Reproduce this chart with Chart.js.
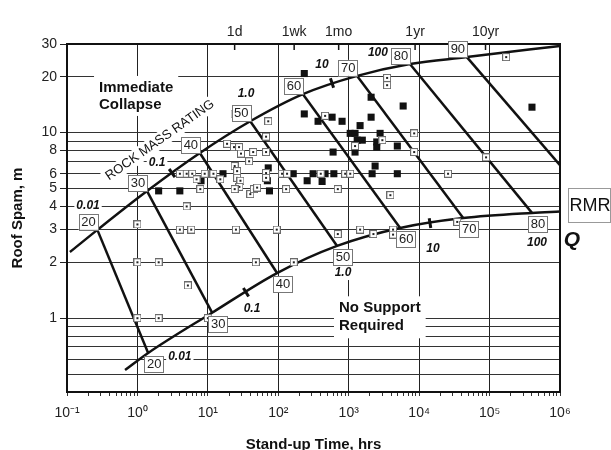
<!DOCTYPE html>
<html>
<head>
<meta charset="utf-8">
<script src="https://cdn.jsdelivr.net/npm/chart.js@4.4.1/dist/chart.umd.min.js"></script>
<style>
  html, body { margin: 0; padding: 0; background: #fff; }
  canvas { display: block; }
</style>
</head>
<body>
<canvas id="chart" width="611" height="450"></canvas>
<script>
// Stand-up time (hrs) vs roof span (m), both log scales
const openCases = [
    [1, 3.2], [4, 3], [5.8, 3], [25, 3], [95, 3],
    [1, 2], [2, 2], [48, 2], [166, 2], [5.2, 1.5],
    [1, 1], [2, 1], [10, 1],
    [700, 2.84], [1450, 3], [2240, 2.84], [4260, 3], [4260, 2.82], [34700, 3.3],
    [5, 4], [4, 6], [5, 6], [6, 6], [9, 6], [12, 6],
    [6.9, 5.6], [7.8, 4.96],
    [24, 12.6], [72, 11.5], [67, 9.5],
    [18.7, 8.7], [23.5, 8.35], [27.7, 8.35], [29.5, 7.7], [44, 7.85], [67, 7.85], [38.5, 7.0],
    [24, 6.6], [26, 6.2], [26, 5.7], [29, 5.5], [28, 5.1], [24, 4.96], [15, 5.6],
    [40, 4.66], [45, 4.96], [50, 5.05], [67, 6.05], [67, 5.7],
    [113, 6], [133, 6], [129, 4.96],
    [3510, 19.7], [3510, 18.0], [462, 12.3], [3000, 9.1], [8500, 9.9], [8500, 7.85], [1230, 8.46],
    [400, 6], [890, 6], [1050, 6], [700, 4.96], [3900, 4.6], [25700, 6], [89000, 7.35], [172000, 25.5]
];
const filledCases = [
    [2, 4.85], [4, 4.85], [8, 5.5], [16.4, 6], [72, 6.45], [70, 5.5], [75, 4.85],
    [163, 6], [257, 5.5], [312, 6], [419, 5.45], [462, 6], [615, 6], [2150, 6], [2370, 6.6], [4900, 6],
    [600, 7.85], [1230, 7.85], [2500, 8.9], [2500, 8.35], [4900, 8.46],
    [1050, 9.9], [1230, 9.9], [1320, 9.1], [1560, 9.1], [2790, 9.9], [1450, 10.9],
    [234, 20.8], [234, 12.6], [367, 11.5], [581, 12.1], [805, 11.5],
    [2080, 15.5], [2080, 12.1], [5930, 13.9], [400000, 13.7]
];

// rock mass rating lines
const rmrValues = [20, 30, 40, 50, 60, 70, 80, 90];
const upperRmr = [[0.27, 2.99], [1.37, 4.84], [7.7, 7.76], [40, 11.5], [224, 16.1], [1318, 20.2], [7400, 23.4], [47600, 25.5]];
const lowerRmr = [[1.42, 0.649], [11.5, 1.07], [96, 1.75], [684, 2.45], [5370, 3.06], [42200, 3.46], [400000, 3.69]];
const rmr90End = [1e6, 6.68];
const upperCurve = [[0.11, 2.27], ...upperRmr, [1e6, 29.3]];
const lowerCurve = [[0.667, 0.525], ...lowerRmr, [1e6, 3.75]];

// Q values along the two boundary curves
const qLabels = ['0.01', '0.1', '1.0', '10', '100'];
const upperQPos = [[0.199, 4.02], [1.9, 6.85], [34.8, 16.1], [417, 23.1], [2600, 26.8]];
const lowerQPos = [[4.0, 0.62], [42.4, 1.12], [830, 1.75], [15700, 2.36], [471000, 2.54]];
const upperQTicks = [[3.1, 6.05], [579, 18.5]];
const lowerQTicks = [[34.8, 1.38], [14260, 3.25]];

// axes
const yGridValues = [0.5, 0.6, 0.7, 0.8, 0.9, 1, 2, 3, 4, 5, 6, 7, 8, 9, 10, 20, 30];
const yLabelled = [1, 2, 3, 4, 5, 6, 8, 10, 20, 30];
const topTickHours = [24, 168, 720, 8760, 87600];
const topTickNames = ['1d', '1wk', '1mo', '1yr', '10yr'];

const family = '"Liberation Sans", Arial, Helvetica, sans-serif';
const supers = { '-': '\u207B', '0': '\u2070', '1': '\u00B9', '2': '\u00B2', '3': '\u00B3', '4': '\u2074', '5': '\u2075', '6': '\u2076' };

const xTickValues = [];
for (let e = -1; e < 6; e++) {
    for (let m = 1; m < 10; m++) xTickValues.push(parseFloat((m * Math.pow(10, e)).toPrecision(3)));
}
xTickValues.push(1e6);

function isDecade(v) {
    const l = Math.log10(v);
    return Math.abs(l - Math.round(l)) < 1e-9;
}

function toXY(list) {
    return list.map(p => ({ x: p[0], y: p[1] }));
}

function openMarker() {
    const c = document.createElement('canvas');
    c.width = 8; c.height = 8;
    const g = c.getContext('2d');
    g.fillStyle = '#fff';
    g.fillRect(0, 0, 8, 8);
    g.strokeStyle = '#6a6a6a';
    g.lineWidth = 1;
    g.strokeRect(0.5, 0.5, 7, 7);
    g.fillStyle = '#222';
    g.fillRect(3, 3, 2, 2);
    return c;
}

const lineStyle = {
    showLine: true,
    pointRadius: 0,
    borderColor: '#111',
    borderWidth: 2.5,
    fill: false
};

const datasets = [
    { data: toXY(openCases), pointStyle: openMarker(), pointRadius: 4 },
    { data: toXY(filledCases), pointStyle: 'rect', pointRadius: 5, backgroundColor: '#111', borderColor: '#111', borderWidth: 0 },
    { ...lineStyle, data: toXY(upperCurve), cubicInterpolationMode: 'monotone' },
    { ...lineStyle, data: toXY(lowerCurve), cubicInterpolationMode: 'monotone' }
];
upperRmr.forEach((p, i) => {
    const end = i < lowerRmr.length ? lowerRmr[i] : rmr90End;
    datasets.push({ ...lineStyle, data: toXY([p, end]) });
});

function whiteText(ctx, lines, x, y, lineH, font, align) {
    ctx.font = font;
    ctx.textBaseline = 'middle';
    ctx.textAlign = align;
    const w = Math.max(...lines.map(t => ctx.measureText(t).width));
    const left = align === 'left' ? x : x - w / 2;
    ctx.fillStyle = '#fff';
    ctx.fillRect(left - 5, y - lineH / 2 - 3, w + 10, lineH * lines.length + 6);
    ctx.fillStyle = '#111';
    lines.forEach((t, i) => ctx.fillText(t, x, y + i * lineH));
}

function rmrBox(ctx, text, x, y) {
    ctx.font = '13px ' + family;
    ctx.textAlign = 'center';
    ctx.textBaseline = 'middle';
    const w = ctx.measureText(text).width + 5;
    ctx.fillStyle = '#fff';
    ctx.fillRect(x - w / 2, y - 8, w, 16);
    ctx.strokeStyle = '#777';
    ctx.lineWidth = 1;
    ctx.strokeRect(Math.round(x - w / 2) + 0.5, Math.round(y - 8) + 0.5, Math.round(w), 16);
    ctx.fillStyle = '#222';
    ctx.fillText(text, x, y + 0.5);
}

const decor = {
    id: 'decor',
    beforeDatasetsDraw(chart) {
        const { ctx } = chart;
        const xs = chart.scales.x, ys = chart.scales.y;
        ctx.save();
        whiteText(ctx, ['Immediate', 'Collapse'], xs.getPixelForValue(0.285), ys.getPixelForValue(17.5), 17, 'bold 15px ' + family, 'left');
        whiteText(ctx, ['No Support', 'Required'], xs.getPixelForValue(728), ys.getPixelForValue(1.13), 18, 'bold 15px ' + family, 'left');

        // rotated curve title
        ctx.translate(xs.getPixelForValue(2.09), ys.getPixelForValue(9.1));
        ctx.rotate(-35.3 * Math.PI / 180);
        ctx.font = '13px ' + family;
        const w = ctx.measureText('ROCK MASS RATING').width;
        ctx.fillStyle = '#fff';
        ctx.fillRect(-w / 2 - 3, -8, w + 6, 16);
        ctx.fillStyle = '#111';
        ctx.textAlign = 'center';
        ctx.textBaseline = 'middle';
        ctx.fillText('ROCK MASS RATING', 0, 0);
        ctx.restore();
    },
    afterDatasetsDraw(chart) {
        const { ctx, chartArea: a } = chart;
        const xs = chart.scales.x, ys = chart.scales.y, x2 = chart.scales.x2;
        const px = p => [xs.getPixelForValue(p[0]), ys.getPixelForValue(p[1])];
        ctx.save();

        // frame
        ctx.strokeStyle = '#111';
        ctx.lineWidth = 2;
        ctx.strokeRect(a.left, a.top, a.right - a.left, a.bottom - a.top);

        // short inside ticks of the time scale
        ctx.lineWidth = 1.5;
        topTickHours.forEach(h => {
            const x = x2.getPixelForValue(h);
            ctx.beginPath();
            ctx.moveTo(x, a.top);
            ctx.lineTo(x, a.top + 6);
            ctx.stroke();
        });

        // Q tick marks across the curves
        ctx.lineWidth = 3;
        [[upperCurve, upperQTicks], [lowerCurve, lowerQTicks]].forEach(([curve, ticks]) => {
            const pts = curve.map(px);
            ticks.forEach(t => {
                const [tx, ty] = px(t);
                let k = pts.findIndex(p => p[0] > tx);
                if (k < 1) k = 1;
                const dx = pts[k][0] - pts[k - 1][0], dy = pts[k][1] - pts[k - 1][1];
                const len = Math.hypot(dx, dy);
                const nx = -dy / len * 5, ny = dx / len * 5;
                ctx.beginPath();
                ctx.moveTo(tx - nx, ty - ny);
                ctx.lineTo(tx + nx, ty + ny);
                ctx.stroke();
            });
        });

        // RMR boxed values
        rmrValues.forEach((r, i) => {
            const [ux, uy] = px(upperRmr[i]);
            rmrBox(ctx, String(r), ux - 9, uy - 8);
            if (i < lowerRmr.length) {
                const [lx, ly] = px(lowerRmr[i]);
                rmrBox(ctx, String(r), lx + 6, ly + 11);
            }
        });

        // Q values
        [upperQPos, lowerQPos].forEach(list => {
            list.forEach((p, i) => {
                const [x, y] = px(p);
                ctx.font = 'italic bold 12px ' + family;
                const w = ctx.measureText(qLabels[i]).width;
                ctx.fillStyle = '#fff';
                ctx.fillRect(x - w / 2 - 2, y - 7, w + 4, 14);
                ctx.fillStyle = '#111';
                ctx.textAlign = 'center';
                ctx.textBaseline = 'middle';
                ctx.fillText(qLabels[i], x, y);
            });
        });

        // RMR / Q legend at the right
        ctx.strokeStyle = '#999';
        ctx.lineWidth = 1;
        ctx.strokeRect(a.right + 8.5, a.top + 144.5, 42, 34);
        ctx.fillStyle = '#111';
        ctx.font = '18px ' + family;
        ctx.textAlign = 'center';
        ctx.textBaseline = 'middle';
        ctx.fillText('RMR', a.right + 30, a.top + 162);
        ctx.font = 'italic bold 21px ' + family;
        ctx.fillText('Q', a.right + 12, a.top + 196);

        // axis titles
        ctx.font = 'bold 15px ' + family;
        ctx.fillText('Stand-up Time, hrs', (a.left + a.right) / 2, a.bottom + 53);
        ctx.translate(18, (a.top + a.bottom) / 2);
        ctx.rotate(-Math.PI / 2);
        ctx.fillText('Roof Spam, m', 0, 0);
        ctx.restore();
    }
};

new Chart(document.getElementById('chart'), {
    type: 'scatter',
    data: { datasets },
    options: {
        responsive: false,
        animation: false,
        layout: { padding: { left: 0, right: 51, top: 0, bottom: 0 } },
        plugins: {
            legend: { display: false },
            tooltip: { enabled: false }
        },
        scales: {
            x: {
                type: 'logarithmic',
                position: 'bottom',
                min: 0.1,
                max: 1e6,
                afterBuildTicks: s => { s.ticks = xTickValues.map(v => ({ value: v })); },
                afterFit: s => { s.height = 58; },
                grid: {
                    color: c => isDecade(c.tick.value) ? '#222' : 'rgba(0,0,0,0)',
                    tickColor: '#333',
                    tickLength: 4,
                    lineWidth: 1
                },
                border: { color: '#111', width: 2 },
                ticks: {
                    autoSkip: false,
                    maxRotation: 0,
                    padding: 9,
                    color: '#222',
                    font: { family: family, size: 14 },
                    callback: v => isDecade(v) ? '10' + String(Math.round(Math.log10(v))).split('').map(ch => supers[ch]).join('') : ''
                }
            },
            x2: {
                type: 'logarithmic',
                position: 'top',
                min: 0.1,
                max: 1e6,
                afterBuildTicks: s => { s.ticks = topTickHours.map(v => ({ value: v })); },
                afterFit: s => { s.height = 44; },
                grid: { drawOnChartArea: false, drawTicks: false },
                border: { color: '#111', width: 2 },
                ticks: {
                    autoSkip: false,
                    maxRotation: 0,
                    padding: 3,
                    color: '#222',
                    font: { family: family, size: 14 },
                    callback: (v, i) => topTickNames[i]
                }
            },
            y: {
                type: 'logarithmic',
                min: 0.4,
                max: 30,
                afterBuildTicks: s => { s.ticks = yGridValues.map(v => ({ value: v })); },
                afterFit: s => { s.width = 67; },
                grid: {
                    color: '#333',
                    lineWidth: 1,
                    tickLength: 7,
                    tickColor: c => yLabelled.includes(c.tick.value) ? '#222' : 'rgba(0,0,0,0)'
                },
                border: { color: '#111', width: 2 },
                ticks: {
                    autoSkip: false,
                    padding: 3,
                    color: '#222',
                    font: { family: family, size: 14 },
                    callback: v => yLabelled.includes(v) ? String(v) : ''
                }
            }
        }
    },
    plugins: [decor]
});
</script>
</body>
</html>
